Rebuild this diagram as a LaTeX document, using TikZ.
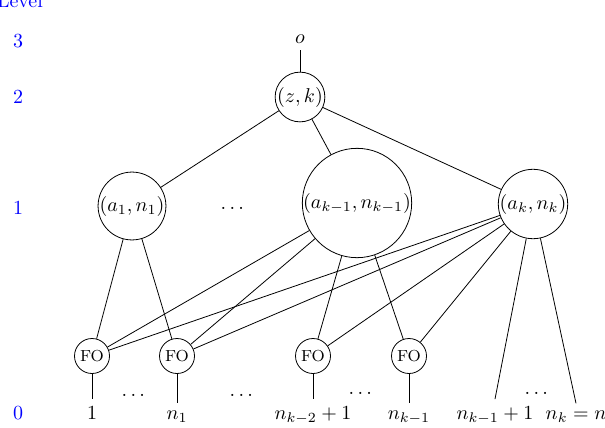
\documentclass[tikz,border=0pt]{standalone}
\usepackage{amssymb}
\usepackage{amsmath}
\usepackage{tikz}
\usetikzlibrary{positioning}

\begin{document}
\begin{tikzpicture}[x=0.5pt, y=-0.5pt,
  lvl/.style={text=blue, anchor=base},
  gate/.style={draw, circle, inner sep=0pt},
  fo/.style={draw, circle, inner sep=0pt, minimum size=17.5pt, font=\footnotesize},
  leaf/.style={anchor=base}]
\useasboundingbox (0,0) rectangle (605,428);
% levels
\node[lvl] (lvtitle) at (20,7) {Level};
\node[lvl] (lv3) at (18,47) {3};
\node[lvl] (lv2) at (18,103) {2};
\node[lvl] (lv1) at (18,214) {1};
\node[lvl] (lv0) at (18,419) {0};
% tree
\node (out) at (300,39) {$o$};
\node[gate, minimum size=23pt] (zk) at (300,97) {$(z,k)$};
\node[gate, minimum size=32pt] (a1) at (132,206) {$(a_1,n_1)$};
\node (dtop) at (234,208) {$\dots$};
\node[gate, minimum size=50pt] (akm1) at (357,203) {$(a_{k-1},n_{k-1})$};
\node[gate, minimum size=32pt] (ak) at (533,204) {$(a_k,n_k)$};
\node[fo] (fo1) at (92,356) {FO};
\node[fo] (fo2) at (177,356) {FO};
\node[fo] (fo3) at (313,356) {FO};
\node[fo] (fo4) at (409,356) {FO};
% leaves
\node[leaf] (lb1) at (92,419) {$1$};
\node[leaf] (lb2) at (177,419) {$n_1$};
\node[leaf] (lb3) at (313,419) {$n_{k-2}+1$};
\node[leaf] (lb4) at (409,419) {$n_{k-1}$};
\node[leaf] (lb5) at (495,419) {$n_{k-1}+1$};
\node[leaf] (lb6) at (576,419) {$n_k=n$};
\node (d1) at (135,395) {$\dots$};
\node (d2) at (243,395) {$\dots$};
\node (d3) at (362,393) {$\dots$};
\node (d4) at (538,393) {$\dots$};
\draw (out)--(zk);
\draw (zk)--(a1); \draw (zk)--(akm1); \draw (zk)--(ak);
\draw (a1)--(fo1); \draw (a1)--(fo2);
\foreach \i in {1,...,4} {
  \draw (akm1)--(fo\i); \draw (ak)--(fo\i);
  \draw (fo\i)--(lb\i.north);
}
\draw (ak)--(lb5.north); \draw (ak)--(lb6.north);
\end{tikzpicture}
\end{document}
